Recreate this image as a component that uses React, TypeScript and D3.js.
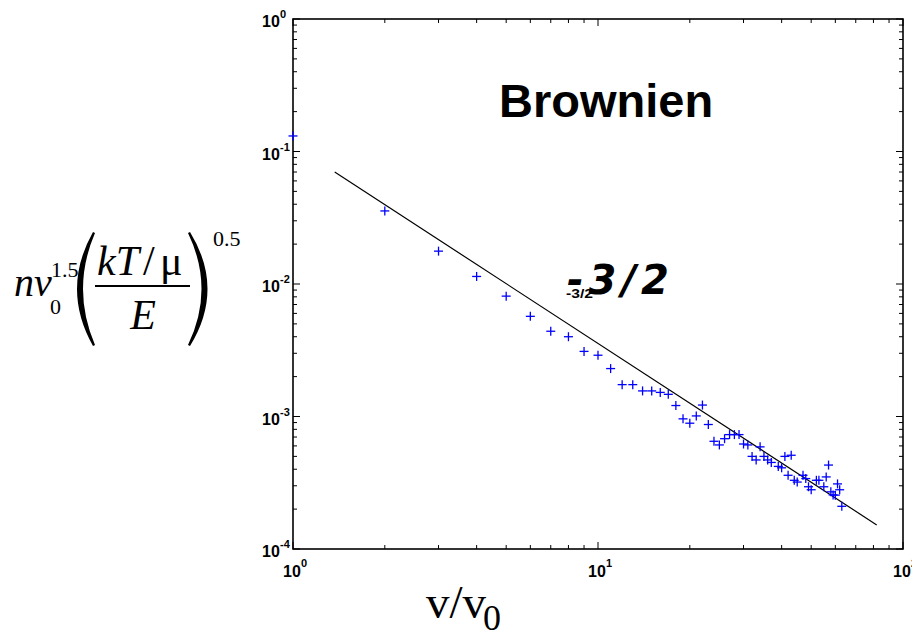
import React from "react";
import * as d3 from "d3";

const xValues = [1,2,3,4,5,6,7,8,9,10,11,12,13,14,15,16,17,18,19,20,21,22,23,24,25,26,27,28,29,30,31,32,33,34,35,36,37,39,40,41,42,43,44,45,47,48,49,50,52,53,55,56,57,58,59,60,61,62,63];
const yValues = [0.131,0.0356,0.0177,0.0114,0.0081,0.0057,0.0044,0.0040,0.0031,0.0029,0.0023,0.00174,0.00174,0.00156,0.00156,0.00152,0.00147,0.00121,0.00096,0.00089,0.00101,0.00122,0.00087,0.00065,0.00061,0.00068,0.00073,0.00073,0.00073,0.00062,0.00061,0.00050,0.00047,0.00059,0.00050,0.00047,0.00045,0.00042,0.00041,0.00050,0.00036,0.00051,0.00033,0.00032,0.00036,0.00034,0.000295,0.00028,0.00033,0.00033,0.000295,0.00035,0.00043,0.00027,0.000256,0.000255,0.00031,0.00028,0.00021];
const fitX = [1.37, 82];
const fitY = [0.070, 0.000152];
const xDecades = [0, 1, 2];
const yDecades = [0, -1, -2, -3, -4];
const titleText = "Brownien";
const slopeText = "-3/2";

export default function App() {
  const W = 912, H = 631;
  const x = d3.scaleLog().domain([1, 100]).range([293, 903]);
  const y = d3.scaleLog().domain([1e-4, 1]).range([549, 19]);
  const [x0, x1] = x.range();
  const [y0, y1] = y.range();

  const xMinor: number[] = [];
  for (let d = 0; d < 2; d++) for (let m = 2; m <= 9; m++) xMinor.push(m * Math.pow(10, d));
  const yMinor: number[] = [];
  for (let d = -4; d < 0; d++) for (let m = 2; m <= 9; m++) yMinor.push(m * Math.pow(10, d));

  const line = d3.line<number>().x((_, i) => x(fitX[i])).y((_, i) => y(fitY[i]));
  const lab = { fontFamily: "'Liberation Sans', Arial, sans-serif", fontWeight: 700 } as const;
  const times = "'Liberation Serif', 'Times New Roman', serif";

  return (
    <svg width={W} height={H} style={{ position: "absolute", left: 0, top: 0, background: "#fff" }}>
      <rect x={0} y={0} width={W} height={H} fill="#fff" />
      {/* ticks */}
      <g stroke="#000" strokeWidth={1}>
        {xMinor.map((v, i) => (
          <g key={"xm" + i}>
            <line x1={x(v)} x2={x(v)} y1={y0} y2={y0 - 4} />
            <line x1={x(v)} x2={x(v)} y1={y1} y2={y1 + 4} />
          </g>
        ))}
        {xDecades.map((d) => (
          <g key={"xM" + d}>
            <line x1={x(Math.pow(10, d))} x2={x(Math.pow(10, d))} y1={y0} y2={y0 - 7} />
            <line x1={x(Math.pow(10, d))} x2={x(Math.pow(10, d))} y1={y1} y2={y1 + 7} />
          </g>
        ))}
        {yMinor.map((v, i) => (
          <g key={"ym" + i}>
            <line x1={x0} x2={x0 + 4} y1={y(v)} y2={y(v)} />
            <line x1={x1} x2={x1 - 4} y1={y(v)} y2={y(v)} />
          </g>
        ))}
        {yDecades.map((d) => (
          <g key={"yM" + d}>
            <line x1={x0} x2={x0 + 7} y1={y(Math.pow(10, d))} y2={y(Math.pow(10, d))} />
            <line x1={x1} x2={x1 - 7} y1={y(Math.pow(10, d))} y2={y(Math.pow(10, d))} />
          </g>
        ))}
      </g>
      <rect x={x0} y={y1} width={x1 - x0} height={y0 - y1} fill="none" stroke="#000" strokeWidth={1.6} />

      {/* tick labels */}
      {yDecades.map((d) => (
        <g key={"yl" + d} {...lab}>
          <text x={262} y={y(Math.pow(10, d)) + 8} fontSize={16}>10</text>
          <text x={280} y={y(Math.pow(10, d)) - 1} fontSize={11}>{d}</text>
        </g>
      ))}
      {xDecades.map((d) => (
        <g key={"xl" + d} {...lab}>
          <text x={x(Math.pow(10, d)) - 10} y={577} fontSize={16}>10</text>
          <text x={x(Math.pow(10, d)) + 8} y={567} fontSize={11}>{d}</text>
        </g>
      ))}

      {/* fit line */}
      <path d={line(fitX) || ""} fill="none" stroke="#000" strokeWidth={1.2} />

      {/* data */}
      <g stroke="#0000ff" strokeWidth={1.3}>
        {xValues.map((v, i) => {
          const cx = x(v), cy = y(yValues[i]);
          return (
            <g key={"p" + i}>
              <line x1={cx - 4.5} x2={cx + 4.5} y1={cy} y2={cy} />
              <line x1={cx} x2={cx} y1={cy - 4.5} y2={cy + 4.5} />
            </g>
          );
        })}
      </g>

      {/* annotations */}
      <text x={499} y={117} fontSize={47} {...lab}>{titleText}</text>
      <text x={566} y={298} fontSize={12} textLength={27} lengthAdjust="spacingAndGlyphs" {...lab}>{slopeText}</text>
      <text x={567} y={294} fontSize={40} fontFamily="'DejaVu Sans', sans-serif" fontWeight={700} fontStyle="italic" letterSpacing={5}>{slopeText}</text>

      {/* x axis title */}
      <text x={426} y={618} fontSize={47} fontFamily={times}>v/v</text>
      <text x={483} y={630} fontSize={36} fontFamily={times}>0</text>

      {/* y axis title */}
      <g fontFamily={times}>
        <text x={14} y={296} fontSize={40} fontStyle="italic">nv</text>
        <text x={51} y={277} fontSize={22}>1.5</text>
        <text x={50} y={314} fontSize={22}>0</text>
        <path d="M93,232 Q61,289 93,346 L95,345 Q71,289 95,233 Z" fill="#000" />
        <text x={97} y={275} fontSize={42} fontStyle="italic">kT</text>
        <text x={143} y={275} fontSize={42}>/</text>
        <text x={160} y={275} fontSize={42}>μ</text>
        <line x1={95} x2={190} y1={286} y2={286} stroke="#000" strokeWidth={1.8} />
        <text x={143} y={329} fontSize={42} fontStyle="italic" textAnchor="middle">E</text>
        <path d="M190,232 Q225,289 190,346 L188,345 Q215,289 188,233 Z" fill="#000" />
        <text x={213} y={246} fontSize={22}>0.5</text>
      </g>
    </svg>
  );
}
